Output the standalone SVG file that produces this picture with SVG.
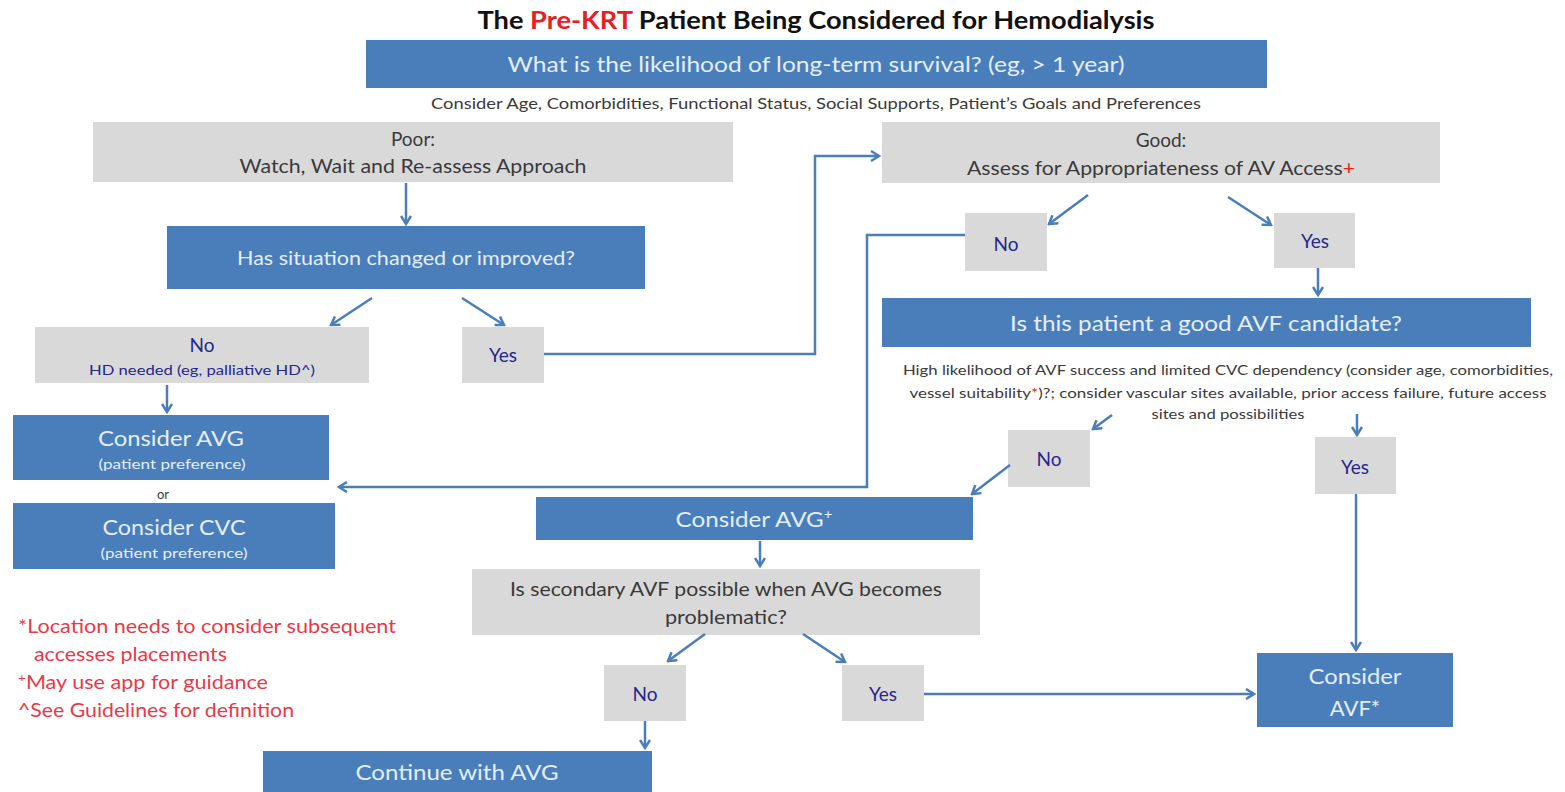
<svg xmlns="http://www.w3.org/2000/svg" width="1565" height="792" viewBox="0 0 1565 792">
  <defs>
    <style>
      text { font-family: Lato, "Open Sans", "Liberation Sans", sans-serif; }
      .blue { fill: #4a7ebb; }
      .gray { fill: #d9d9d9; }
      .wt { fill: #e4eef9; text-anchor: middle; }
      .dk { fill: #3a3a3a; text-anchor: middle; }
      .nv { fill: #26268c; text-anchor: middle; }
      .red { fill: #e63a46; }
      .conn { fill: none; stroke: #4a7ebb; stroke-width: 2.5; marker-end: url(#arrow); }
    </style>
    <marker id="arrow" viewBox="0 0 12 12" refX="10" refY="6" markerWidth="12" markerHeight="12" markerUnits="userSpaceOnUse" orient="auto">
      <path d="M2,1 L10,6 L2,11" fill="none" stroke="#4a7ebb" stroke-width="2.5"/>
    </marker>
  </defs>

  <rect width="1565" height="792" fill="#ffffff"/>

  <!-- title -->
  <text x="816" y="29" font-size="24" font-weight="bold" text-anchor="middle" fill="#111" textLength="677" lengthAdjust="spacingAndGlyphs">The <tspan fill="#e62020">Pre-KRT</tspan> Patient Being Considered for Hemodialysis</text>

  <g id="n-survival">
    <rect class="blue" x="366" y="40" width="901" height="48"/>
    <text class="wt" x="816" y="72" font-size="22" textLength="617" lengthAdjust="spacingAndGlyphs">What is the likelihood of long-term survival? (eg, &gt; 1 year)</text>
  </g>
  <g id="n-consider-note">
    <text class="dk" x="816" y="109" font-size="15" fill="#222" textLength="770" lengthAdjust="spacingAndGlyphs">Consider Age, Comorbidities, Functional Status, Social Supports, Patient’s Goals and Preferences</text>
  </g>

  <g id="n-poor">
    <rect class="gray" x="93" y="122" width="640" height="60"/>
    <text class="dk" x="413" y="146" font-size="19">Poor:</text>
    <text class="dk" x="413" y="173" font-size="19" textLength="347" lengthAdjust="spacingAndGlyphs">Watch, Wait and Re-assess Approach</text>
  </g>
  <g id="n-changed">
    <rect class="blue" x="167" y="226" width="478" height="63"/>
    <text class="wt" x="406" y="265" font-size="19" textLength="338" lengthAdjust="spacingAndGlyphs">Has situation changed or improved?</text>
  </g>
  <g id="n-no1">
    <rect class="gray" x="35" y="327" width="334" height="56"/>
    <text class="nv" x="202" y="352" font-size="19">No</text>
    <text class="nv" x="202" y="375" font-size="14" textLength="226" lengthAdjust="spacingAndGlyphs">HD needed (eg, palliative HD^)</text>
  </g>
  <g id="n-yes1">
    <rect class="gray" x="462" y="327" width="82" height="56"/>
    <text class="nv" x="503" y="362" font-size="19">Yes</text>
  </g>
  <g id="n-avg-pref">
    <rect class="blue" x="13" y="415" width="316" height="65"/>
    <text class="wt" x="171" y="446" font-size="22" textLength="146" lengthAdjust="spacingAndGlyphs">Consider AVG</text>
    <text class="wt" x="172" y="469" font-size="14" textLength="147" lengthAdjust="spacingAndGlyphs">(patient preference)</text>
  </g>
  <g id="n-or">
    <text class="dk" x="163" y="499" font-size="13">or</text>
  </g>
  <g id="n-cvc-pref">
    <rect class="blue" x="13" y="503" width="322" height="66"/>
    <text class="wt" x="174" y="535" font-size="22" textLength="143" lengthAdjust="spacingAndGlyphs">Consider CVC</text>
    <text class="wt" x="174" y="558" font-size="14" textLength="147" lengthAdjust="spacingAndGlyphs">(patient preference)</text>
  </g>

  <g id="n-good">
    <rect class="gray" x="882" y="122" width="558" height="61"/>
    <text class="dk" x="1161" y="147" font-size="19">Good:</text>
    <text class="dk" x="1161" y="175" font-size="19" textLength="388" lengthAdjust="spacingAndGlyphs">Assess for Appropriateness of AV Access<tspan fill="#e62020">+</tspan></text>
  </g>
  <g id="n-no2">
    <rect class="gray" x="965" y="213" width="82" height="58"/>
    <text class="nv" x="1006" y="251" font-size="19">No</text>
  </g>
  <g id="n-yes2">
    <rect class="gray" x="1274" y="213" width="81" height="55"/>
    <text class="nv" x="1315" y="248" font-size="19">Yes</text>
  </g>
  <g id="n-avf-candidate">
    <rect class="blue" x="882" y="298" width="649" height="49"/>
    <text class="wt" x="1206" y="331" font-size="21" textLength="392" lengthAdjust="spacingAndGlyphs">Is this patient a good AVF candidate?</text>
  </g>
  <g id="n-avf-note">
    <text class="dk" x="1228" y="375" font-size="13.5" fill="#222" textLength="650" lengthAdjust="spacingAndGlyphs">High likelihood of AVF success and limited CVC dependency (consider age, comorbidities,</text>
    <text class="dk" x="1228" y="398" font-size="13.5" fill="#222" textLength="637" lengthAdjust="spacingAndGlyphs">vessel suitability<tspan fill="#e62020">*</tspan>)?; consider vascular sites available, prior access failure, future access</text>
    <text class="dk" x="1228" y="419" font-size="13.5" fill="#222" textLength="153" lengthAdjust="spacingAndGlyphs">sites and possibilities</text>
  </g>
  <g id="n-no3">
    <rect class="gray" x="1008" y="430" width="82" height="57"/>
    <text class="nv" x="1049" y="466" font-size="19">No</text>
  </g>
  <g id="n-yes3">
    <rect class="gray" x="1315" y="437" width="81" height="57"/>
    <text class="nv" x="1355" y="474" font-size="19">Yes</text>
  </g>
  <g id="n-avg">
    <rect class="blue" x="536" y="497" width="437" height="43"/>
    <text class="wt" x="754" y="527" font-size="21" textLength="157" lengthAdjust="spacingAndGlyphs">Consider AVG<tspan font-size="13" dy="-8">+</tspan></text>
  </g>
  <g id="n-secondary">
    <rect class="gray" x="472" y="569" width="508" height="66"/>
    <text class="dk" x="726" y="596" font-size="19" textLength="432" lengthAdjust="spacingAndGlyphs">Is secondary AVF possible when AVG becomes</text>
    <text class="dk" x="726" y="624" font-size="19" textLength="122" lengthAdjust="spacingAndGlyphs">problematic?</text>
  </g>
  <g id="n-no4">
    <rect class="gray" x="604" y="665" width="82" height="56"/>
    <text class="nv" x="645" y="701" font-size="19">No</text>
  </g>
  <g id="n-yes4">
    <rect class="gray" x="842" y="665" width="82" height="56"/>
    <text class="nv" x="883" y="701" font-size="19">Yes</text>
  </g>
  <g id="n-continue">
    <rect class="blue" x="263" y="751" width="389" height="45"/>
    <text class="wt" x="457" y="780" font-size="21" textLength="203" lengthAdjust="spacingAndGlyphs">Continue with AVG</text>
  </g>
  <g id="n-avf">
    <rect class="blue" x="1257" y="653" width="196" height="74"/>
    <text class="wt" x="1355" y="684" font-size="22" textLength="93" lengthAdjust="spacingAndGlyphs">Consider</text>
    <text class="wt" x="1355" y="716" font-size="22">AVF*</text>
  </g>

  <g id="n-footnotes" class="red" font-size="19">
    <text x="18" y="633" textLength="378" lengthAdjust="spacingAndGlyphs">*Location needs to consider subsequent</text>
    <text x="34" y="661" textLength="193" lengthAdjust="spacingAndGlyphs">accesses placements</text>
    <text x="18" y="689" textLength="250" lengthAdjust="spacingAndGlyphs"><tspan font-size="12" dy="-7">+</tspan><tspan dy="7">May use app for guidance</tspan></text>
    <text x="18" y="717" textLength="276" lengthAdjust="spacingAndGlyphs">^See Guidelines for definition</text>
  </g>

  <g id="connectors">
    <path class="conn" d="M406,183 L406,224"/>
    <path class="conn" d="M372,298 L331,325"/>
    <path class="conn" d="M462,298 L504,325"/>
    <path class="conn" d="M544,354 L815,354 L815,156 L879,156"/>
    <path class="conn" d="M167,385 L167,412"/>
    <path class="conn" d="M1088,195 L1049,224"/>
    <path class="conn" d="M1228,197 L1271,225"/>
    <path class="conn" d="M1318,268 L1318,295"/>
    <path class="conn" d="M965,235 L867,235 L867,487 L339,487"/>
    <path class="conn" d="M1112,415 L1093,429"/>
    <path class="conn" d="M1357,414 L1357,435"/>
    <path class="conn" d="M1010,465 L972,494"/>
    <path class="conn" d="M760,541 L760,566"/>
    <path class="conn" d="M705,634 L668,661"/>
    <path class="conn" d="M803,634 L845,662"/>
    <path class="conn" d="M924,694 L1254,694"/>
    <path class="conn" d="M645,721 L645,748"/>
    <path class="conn" d="M1356,494 L1356,650"/>
  </g>
</svg>
